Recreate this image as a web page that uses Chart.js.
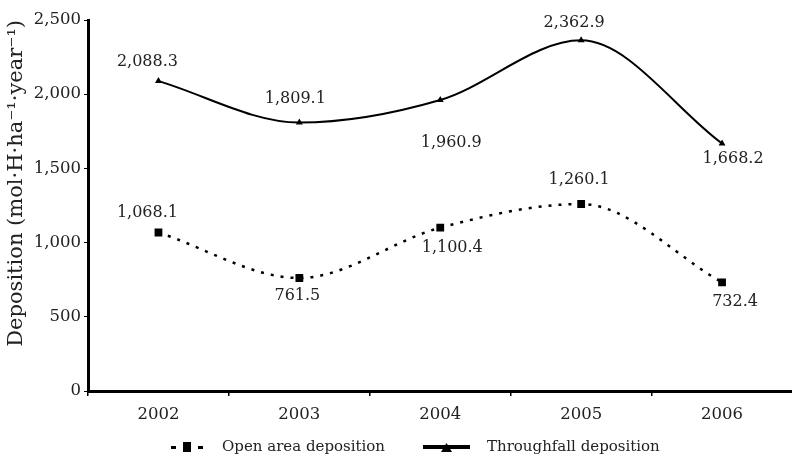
<!DOCTYPE html>
<html>
<head>
<meta charset="utf-8">
<script src="https://cdn.jsdelivr.net/npm/chart.js@4/dist/chart.umd.min.js"></script>
<style>
  html, body { margin: 0; padding: 0; background: #ffffff; overflow: hidden; }
  #wrap { width: 792px; height: 459px; position: relative; overflow: hidden; }
  #c { display: block; }
</style>
</head>
<body>
<div id="wrap"><canvas id="c" width="798" height="459"></canvas></div>
<script>
// ---- data ----
const years = ['2002', '2003', '2004', '2005', '2006'];
const openArea = [1068.1, 761.5, 1100.4, 1260.1, 732.4];
const throughfall = [2088.3, 1809.1, 1960.9, 2362.9, 1668.2];
const yTicks = [0, 500, 1000, 1500, 2000, 2500];
const seriesNames = ['Open area deposition', 'Throughfall deposition'];
const yTitle = 'Deposition (mol\u00B7H\u00B7ha\u207B\u00B9\u00B7year\u207B\u00B9)';

// ---- label placement (style, not data) ----
const openLabelOffsets = [[-11, -20], [-2, 18], [12, 20], [-2, -24], [13, 20]];
const tfLabelOffsets = [[-11, -19], [-4, -24], [11, 43], [-7, -18], [11, 15]];

const SERIF = '"DejaVu Serif", serif';

const fmt = v => v.toLocaleString('en-US', { minimumFractionDigits: 1, maximumFractionDigits: 1 });

const labelPlugin = {
  id: 'pointLabels',
  afterDatasetsDraw(chart) {
    const ctx = chart.ctx;
    ctx.save();
    ctx.font = '16px ' + SERIF;
    ctx.fillStyle = '#222';
    ctx.textAlign = 'center';
    ctx.textBaseline = 'middle';
    const offs = [openLabelOffsets, tfLabelOffsets];
    chart.data.datasets.forEach((ds, di) => {
      const meta = chart.getDatasetMeta(di);
      meta.data.forEach((pt, i) => {
        const o = offs[di][i];
        ctx.fillText(fmt(ds.data[i]), pt.x + o[0], pt.y + o[1]);
      });
    });
    ctx.restore();
  }
};

const legendPlugin = {
  id: 'customLegend',
  afterDraw(chart) {
    const ctx = chart.ctx;
    const y = 447;
    ctx.save();
    ctx.fillStyle = '#000';
    ctx.strokeStyle = '#000';
    // open area symbol: - ■ -
    ctx.fillRect(171, y - 1, 5, 3);
    ctx.fillRect(183, y - 5, 8, 10);
    ctx.fillRect(198, y - 1, 5, 3);
    // throughfall symbol: thick line with triangle
    ctx.fillRect(423, y - 2, 47, 4);
    ctx.beginPath();
    ctx.moveTo(446.5, y - 4);
    ctx.lineTo(452, y + 5);
    ctx.lineTo(441, y + 5);
    ctx.closePath();
    ctx.fill();
    ctx.font = '15px ' + SERIF;
    ctx.fillStyle = '#222';
    ctx.textAlign = 'left';
    ctx.textBaseline = 'middle';
    ctx.fillText(seriesNames[0], 222, y);
    ctx.fillText(seriesNames[1], 487, y);
    ctx.restore();
  }
};

const bgPlugin = {
  id: 'bg',
  beforeDraw(chart) {
    const ctx = chart.ctx;
    ctx.save();
    ctx.fillStyle = '#fff';
    ctx.fillRect(0, 0, chart.width, chart.height);
    ctx.restore();
  }
};

new Chart(document.getElementById('c'), {
  type: 'line',
  data: {
    labels: years,
    datasets: [
      {
        label: seriesNames[0],
        data: openArea,
        borderColor: '#000',
        backgroundColor: '#000',
        borderWidth: 2.5,
        borderDash: [3, 7],
        cubicInterpolationMode: 'monotone',
        pointStyle: 'rect',
        pointRadius: 5.5,
        pointBorderWidth: 0,
        fill: false
      },
      {
        label: seriesNames[1],
        data: throughfall,
        borderColor: '#000',
        backgroundColor: '#000',
        borderWidth: 2,
        cubicInterpolationMode: 'monotone',
        pointStyle: 'triangle',
        pointRadius: 4,
        pointBorderWidth: 0,
        fill: false
      }
    ]
  },
  options: {
    responsive: false,
    animation: false,
    layout: { padding: { top: 20, right: 0, left: 0, bottom: 0 } },
    plugins: {
      legend: { display: false },
      tooltip: { enabled: false }
    },
    scales: {
      x: {
        offset: true,
        grid: { display: true, offset: true, drawOnChartArea: false, drawTicks: true, tickLength: 5, color: '#000', lineWidth: 1.5 },
        border: { display: true, color: '#000', width: 3 },
        ticks: { font: { family: SERIF, size: 16.5 }, color: '#222', padding: 9 },
        afterFit(scale) { scale.height = 68; }
      },
      y: {
        min: 0,
        max: 2500,
        afterBuildTicks(scale) { scale.ticks = yTicks.map(v => ({ value: v })); },
        grid: { display: true, drawOnChartArea: false, drawTicks: true, tickLength: 4, color: '#000', lineWidth: 1 },
        border: { display: true, color: '#000', width: 3 },
        ticks: {
          font: { family: SERIF, size: 16.5 },
          color: '#222',
          padding: 3,
          callback: v => v.toLocaleString('en-US')
        },
        title: {
          display: true,
          text: yTitle,
          align: 'end',
          font: { family: SERIF, size: 21 },
          color: '#222',
          padding: { top: 4, bottom: 0 }
        },
        afterFit(scale) { scale.width = 88; }
      }
    }
  },
  plugins: [bgPlugin, labelPlugin, legendPlugin]
});
</script>
</body>
</html>
